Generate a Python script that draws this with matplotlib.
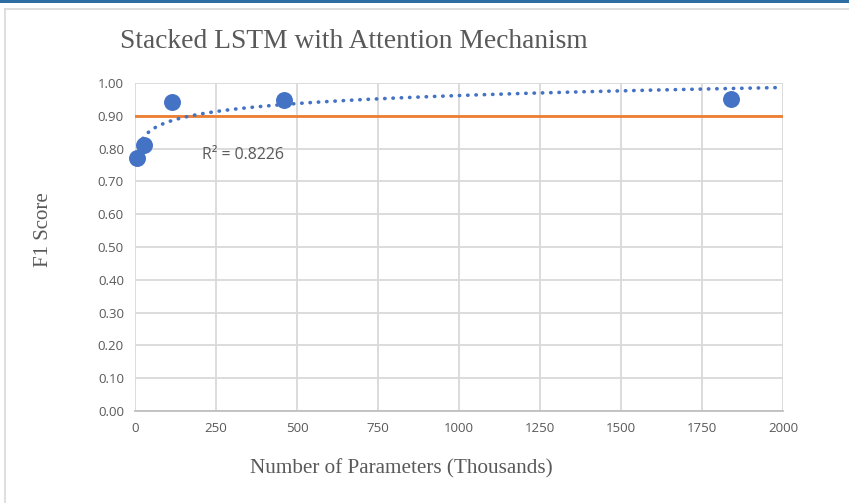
import numpy as np
import matplotlib.pyplot as plt
from matplotlib.patches import Rectangle
from matplotlib.lines import Line2D

params = [6, 28, 114, 460, 1840]
f1 = [0.77, 0.81, 0.942, 0.948, 0.951]
threshold = 0.9
r2_label = "R² = 0.8226"
title = "Stacked LSTM with Attention Mechanism"
xlabel = "Number of Parameters (Thousands)"
ylabel = "F1 Score"
xticks = [0, 250, 500, 750, 1000, 1250, 1500, 1750, 2000]
yticks = [0.0, 0.1, 0.2, 0.3, 0.4, 0.5, 0.6, 0.7, 0.8, 0.9, 1.0]

W, H = 849, 503
fig = plt.figure(figsize=(W/100, H/100), dpi=100)
fig.patch.set_facecolor('white')

# top blue bar and chart border
fig.patches.append(Rectangle((0, 1 - 2.5/H), 1, 2.5/H, transform=fig.transFigure,
                             facecolor='#2f6ea5', edgecolor='none'))
fig.lines.append(Line2D([5/W, 5/W], [0, 1 - 9/H], transform=fig.transFigure, color='#d9d9d9', lw=1.2))
fig.lines.append(Line2D([5/W, 1], [1 - 9/H, 1 - 9/H], transform=fig.transFigure, color='#d9d9d9', lw=1.2))

ax = fig.add_axes([135/W, 1 - 411/H, (783-135)/W, (411-83)/H])
ax.set_xlim(0, 2000)
ax.set_ylim(0, 1.0)
ax.set_xticks(xticks)
ax.set_yticks(yticks)
ax.set_xticklabels([str(t) for t in xticks])
ax.set_yticklabels([f"{t:.2f}" for t in yticks])
ax.grid(True, color='#d9d9d9', lw=1.3)
ax.set_axisbelow(True)
for s in ['top', 'right', 'left']:
    ax.spines[s].set_visible(False)
ax.spines['bottom'].set_color('#bfbfbf')
ax.spines['bottom'].set_linewidth(1.3)
ax.tick_params(length=0, labelsize=9.5, labelcolor='#595959', pad=8)
for lab in ax.get_xticklabels() + ax.get_yticklabels():
    lab.set_fontfamily('Open Sans')

# threshold line
ax.axhline(threshold, color='#ed7d31', lw=2, zorder=2)

# logarithmic trendline
lx = np.log(np.array(params, dtype=float))
b, a = np.polyfit(lx, np.array(f1), 1)
xs = np.linspace(min(params) * 4, 2000, 400)
ax.plot(xs, a + b * np.log(xs), color='#4472c4', lw=2.6,
        linestyle=(0, (0.1, 2.2)), dash_capstyle='round', zorder=3)

ax.scatter(params, f1, s=125, color='#4472c4', zorder=4, clip_on=False)

ax.text(207, 0.78, r2_label, fontsize=11.4, color='#595959', family='Open Sans', va='center')

fig.text(354/W, 1 - 42/H, title, family='Liberation Serif', fontsize=19.8, color='#595959',
         ha='center', va='center')
fig.text(401/W, 1 - 469/H, xlabel, family='Liberation Serif', fontsize=15.2, color='#595959',
         ha='center', va='center')
fig.text(44/W, 1 - 230/H, ylabel, family='Liberation Serif', fontsize=15, color='#595959',
         ha='center', va='center', rotation=90)

fig.savefig('out.png', dpi=100)
